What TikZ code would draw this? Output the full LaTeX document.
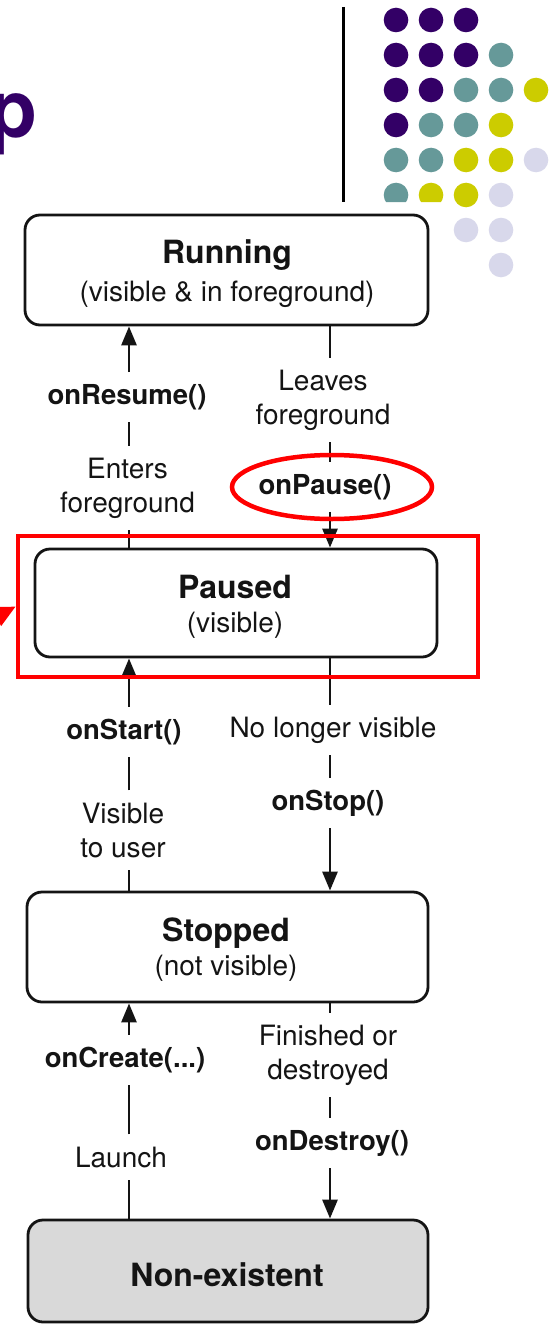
\documentclass[tikz,border=0pt]{standalone}
\usepackage{fontspec}
\setmainfont{TeX Gyre Heros}
\usetikzlibrary{arrows.meta,shapes.geometric}

\definecolor{slidepurple}{HTML}{330066}
\definecolor{slideteal}{HTML}{669999}
\definecolor{slideyellow}{HTML}{CCCC00}
\definecolor{slidelavender}{HTML}{D8D8EB}
\definecolor{boxgray}{HTML}{D9D9D9}
\definecolor{ink}{HTML}{141414}
\definecolor{markred}{HTML}{FF0000}

\begin{document}
\begin{tikzpicture}[x=1pt,y=-1pt,
  state/.style={draw=ink, line width=2.8pt, rounded corners=15pt, fill=white, inner sep=0pt},
  title/.style={font=\fontsize{32}{36}\selectfont\bfseries, text=ink, inner sep=0pt, anchor=base},
  sub/.style={font=\fontsize{28}{34}\selectfont, text=ink, inner sep=0pt, anchor=base},
  call/.style={font=\fontsize{27.5}{34}\selectfont\bfseries, text=ink, inner xsep=2pt, inner ysep=12pt},
  note/.style={font=\fontsize{28}{34}\selectfont, text=ink, align=center, inner xsep=2pt, inner ysep=12pt},
  flow/.style={draw=ink, line width=2.8pt},
  flowto/.style={flow, -{Triangle[width=15pt,length=19pt]}},
  dot/.style={fill=#1},
  redmark/.style={draw=markred, line width=4.5pt}
]
\useasboundingbox (0,0) rectangle (554,1327);
\clip (0,0) rectangle (554,1327);

% slide heading (last letter) and divider
\node[font=\fontsize{80}{80}\selectfont\bfseries, text=slidepurple, inner sep=0pt, anchor=base east]
  (heading) at (38,137) {p};
\coordinate (divtop) at (343,7);
\coordinate (divbot) at (343,202);
\draw[line width=3pt, black] (divtop) -- (divbot);

% decorative dot grid
\begin{scope}
  \clip (350,0) -- (554,0) -- (554,1327) -- (448,1327) -- (448,202) -- (350,202) -- cycle;
  \foreach \c/\r/\col in {
      0/0/slidepurple, 1/0/slidepurple, 2/0/slidepurple,
      0/1/slidepurple, 1/1/slidepurple, 2/1/slidepurple, 3/1/slideteal,
      0/2/slidepurple, 1/2/slidepurple, 2/2/slideteal, 3/2/slideteal, 4/2/slideyellow,
      0/3/slidepurple, 1/3/slideteal, 2/3/slideteal, 3/3/slideyellow,
      0/4/slideteal, 1/4/slideteal, 2/4/slideyellow, 3/4/slideyellow, 4/4/slidelavender,
      0/5/slideteal, 1/5/slideyellow, 2/5/slideyellow, 3/5/slidelavender,
      2/6/slidelavender, 3/6/slidelavender,
      3/7/slidelavender}
    \fill[dot=\col] ({396+35*\c},{20+35*\r}) circle[radius=12.3];
\end{scope}

% lanes of the two columns of transitions
\coordinate (leftlane) at (129,0);
\coordinate (rightlane) at (330,0);

% states
\node[state, minimum width=403, minimum height=110] (run) at (226.5,270) {};
\node[title] at (227,263) {Running};
\node[sub] at (227,301) {(visible \& in foreground)};

\node[state, minimum width=402, minimum height=108] (pau) at (236,603) {};
\node[title] at (235,598) {Paused};
\node[sub] at (235,632) {(visible)};

\node[state, minimum width=401, minimum height=110] (sto) at (227.5,947) {};
\node[title] at (226,941) {Stopped};
\node[sub] at (226,975) {(not visible)};

\node[state, fill=boxgray, minimum width=400, minimum height=102] (non) at (228,1271) {};
\node[title] at (227,1286) {Non-existent};

% transition labels
\node[call] (onresume) at (127,397) {onResume()};
\node[note] (enters) at (127.5,488) {Enters\\foreground};
\node[note] (leaves) at (323,400) {Leaves\\foreground};
\node[call] (onpause) at (325,487) {onPause()};

\node[call] (onstart) at (124,732) {onStart()};
\node[note] (visible) at (123,830) {Visible\\to user};
\node[note] (nolonger) at (333,730) {No longer visible};
\node[call] (onstop) at (328,803) {onStop()};

\node[call] (oncreate) at (125,1060) {onCreate(...)};
\node[note] (launch) at (121,1157) {Launch};
\node[note] (finished) at (328,1055) {Finished or\\destroyed};
\node[call] (ondestroy) at (332,1143) {onDestroy()};

% Paused -> Running
\draw[flow] (pau.north -| leftlane) -- (enters.south -| leftlane);
\draw[flow] (enters.north -| leftlane) -- (onresume.south -| leftlane);
\draw[flowto] (onresume.north -| leftlane) -- (run.south -| leftlane);
% Running -> Paused
\draw[flow] (run.south -| rightlane) -- (leaves.north -| rightlane);
\draw[flow] (leaves.south -| rightlane) -- (onpause.north -| rightlane);
\draw[flowto] (onpause.south -| rightlane) -- (pau.north -| rightlane);

% Stopped -> Paused
\draw[flow] (sto.north -| leftlane) -- (visible.south -| leftlane);
\draw[flow] (visible.north -| leftlane) -- (onstart.south -| leftlane);
\draw[flowto] (onstart.north -| leftlane) -- (pau.south -| leftlane);
% Paused -> Stopped
\draw[flow] (pau.south -| rightlane) -- (nolonger.north -| rightlane);
\draw[flow] (nolonger.south -| rightlane) -- (onstop.north -| rightlane);
\draw[flowto] (onstop.south -| rightlane) -- (sto.north -| rightlane);

% Non-existent -> Stopped
\draw[flow] (non.north -| leftlane) -- (launch.south -| leftlane);
\draw[flow] (launch.north -| leftlane) -- (oncreate.south -| leftlane);
\draw[flowto] (oncreate.north -| leftlane) -- (sto.south -| leftlane);
% Stopped -> Non-existent
\draw[flow] (sto.south -| rightlane) -- (finished.north -| rightlane);
\draw[flow] (finished.south -| rightlane) -- (ondestroy.north -| rightlane);
\draw[flowto] (ondestroy.south -| rightlane) -- (non.north -| rightlane);

% highlights
\node[redmark, ellipse, minimum width=200, minimum height=64, inner sep=0pt] (ring) at (332,487) {};
\node[redmark, rectangle, minimum width=460, minimum height=141, inner sep=0pt] (focus) at (248,606.5) {};
\coordinate (pointer) at (-71,651.5);
\draw[redmark, -{Triangle[width=20pt,length=22pt]}] (pointer) -- (focus.west);
\end{tikzpicture}
\end{document}
